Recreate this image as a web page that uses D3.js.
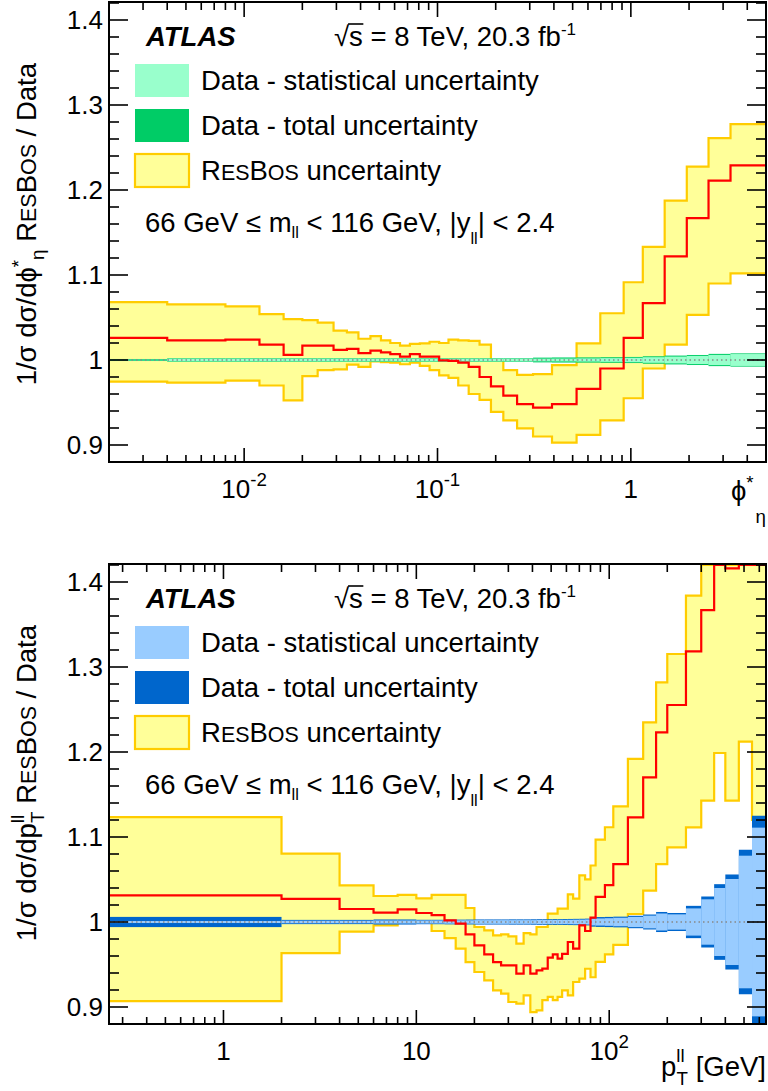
<!DOCTYPE html>
<html><head><meta charset="utf-8">
<script src="https://cdn.jsdelivr.net/npm/d3@7"></script>
<style>
body{margin:0;background:#fff}
svg{display:block}
svg text{font-family:"Liberation Sans",Arial,Helvetica,sans-serif;fill:#000}
</style>
</head><body>
<svg id="c" width="768" height="1091"></svg>
<script>
// ---------------- DATA ----------------
// phi*_eta panel
const phiEdges = [0, 0.004, 0.008, 0.012, 0.016, 0.020, 0.024, 0.029, 0.034, 0.039, 0.045, 0.051, 0.057, 0.064, 0.072, 0.081, 0.091, 0.102, 0.114, 0.128, 0.145, 0.165, 0.189, 0.219, 0.258, 0.312, 0.391, 0.524, 0.695, 0.918, 1.153, 1.496, 1.947, 2.522, 3.277, 5.0];
const phiResBos = [1.026, 1.023, 1.024, 1.018, 1.006, 1.017, 1.017, 1.012, 1.013, 1.008, 1.011, 1.009, 1.007, 1.004, 1.007, 1.004, 1.004, 0.9995, 0.999, 0.997, 0.992, 0.980, 0.969, 0.958, 0.948, 0.944, 0.948, 0.966, 0.990, 1.026, 1.067, 1.122, 1.167, 1.211, 1.229];
const phiResBosUp = [1.068, 1.0655, 1.063, 1.054, 1.048, 1.047, 1.044, 1.0345, 1.0325, 1.025, 1.028, 1.023, 1.020, 1.017, 1.019, 1.0195, 1.0215, 1.020, 1.024, 1.023, 1.0225, 1.018, 1.000, 0.988, 0.9825, 0.9835, 0.994, 1.0195, 1.055, 1.0915, 1.133, 1.1875, 1.2275, 1.261, 1.2775];
const phiResBosDown = [0.9745, 0.9733, 0.9757, 0.970, 0.9525, 0.981, 0.988, 0.989, 0.9945, 0.992, 0.9985, 0.9975, 0.997, 0.995, 0.997, 0.993, 0.988, 0.982, 0.979, 0.970, 0.960, 0.953, 0.939, 0.929, 0.9195, 0.910, 0.9027, 0.912, 0.929, 0.955, 0.990, 1.018, 1.053, 1.090, 1.102];
const phiStat = [0.0004, 0.0016, 0.0016, 0.0016, 0.0016, 0.0016, 0.0016, 0.0016, 0.0016, 0.0016, 0.0016, 0.0016, 0.0016, 0.0016, 0.0016, 0.0016, 0.0016, 0.0016, 0.0016, 0.0016, 0.0016, 0.0016, 0.0016, 0.0016, 0.0016, 0.0016, 0.0017, 0.0019, 0.0022, 0.0026, 0.0033, 0.0040, 0.0048, 0.0060, 0.0070];
const phiTotal = [0.0012, 0.0021, 0.0021, 0.0021, 0.0021, 0.0021, 0.0021, 0.0021, 0.0021, 0.0021, 0.0021, 0.0021, 0.0021, 0.0021, 0.0021, 0.0021, 0.0021, 0.0021, 0.0021, 0.0021, 0.0021, 0.0021, 0.0021, 0.0021, 0.0021, 0.0028, 0.0030, 0.0031, 0.0033, 0.0036, 0.0044, 0.0052, 0.0059, 0.0072, 0.0078];
const phiTickValues = [0.01, 0.1, 1];
const phiTickLabels = ["10^-2", "10^-1", "1"];

// pT panel
const ptEdges = [0, 2, 4, 6, 8, 10, 12, 14, 16, 18, 20, 22.5, 25, 27.5, 30, 33, 36, 39, 42, 45, 48, 51, 54, 57, 61, 65, 70, 75, 80, 85, 95, 105, 125, 150, 175, 200, 250, 300, 350, 400, 470, 550, 650];
const ptResBos = [1.0314, 1.0271, 1.0153, 1.011, 1.0149, 1.0106, 1.008, 1.002, 0.998, 0.9855, 0.9726, 0.962, 0.9529, 0.949, 0.949, 0.9393, 0.949, 0.9393, 0.9432, 0.9451, 0.9581, 0.962, 0.9569, 0.9624, 0.9765, 0.9687, 0.9961, 0.9894, 1.0052, 1.0296, 1.0434, 1.068, 1.1232, 1.1702, 1.2232, 1.2553, 1.3185, 1.367, 1.43, 1.416, 1.43, 1.43];
const ptResBosUp = [1.1235, 1.0804, 1.0431, 1.0306, 1.0318, 1.0278, 1.0318, 1.0318, 1.0318, 1.0165, 0.9941, 0.9902, 0.9843, 0.9855, 0.9832, 0.9746, 0.987, 0.9855, 0.9941, 0.9941, 1.0099, 1.0099, 1.0158, 1.0158, 1.0326, 1.0275, 1.0549, 1.0502, 1.0665, 1.097, 1.1115, 1.136, 1.1918, 1.2349, 1.282, 1.3153, 1.384, 1.50, 1.55, 1.60, 1.65, 1.70];
const ptResBosDown = [0.907, 0.9635, 0.9886, 0.9961, 0.999, 0.999, 0.9894, 0.981, 0.9687, 0.9529, 0.9412, 0.9314, 0.9196, 0.9157, 0.9059, 0.904, 0.9137, 0.894, 0.896, 0.908, 0.912, 0.908, 0.912, 0.9196, 0.9137, 0.9294, 0.9334, 0.945, 0.935, 0.953, 0.962, 0.973, 1.0094, 1.0369, 1.0682, 1.0878, 1.1114, 1.1427, 1.1988, 1.1427, 1.2122, 1.12];
const ptStat = [0.0012, 0.0015, 0.0015, 0.0018, 0.0018, 0.0018, 0.0018, 0.002, 0.002, 0.002, 0.0022, 0.0022, 0.0022, 0.0022, 0.0022, 0.0022, 0.0022, 0.0022, 0.0024, 0.0024, 0.0024, 0.0024, 0.0025, 0.0025, 0.0026, 0.0027, 0.0028, 0.003, 0.004, 0.0042, 0.0045, 0.005, 0.006, 0.0075, 0.010, 0.009, 0.016, 0.0267, 0.040, 0.0506, 0.078, 0.111];
const ptTotal = [0.006, 0.0025, 0.0025, 0.003, 0.003, 0.0026, 0.0026, 0.0028, 0.0028, 0.0029, 0.003, 0.003, 0.003, 0.003, 0.0031, 0.0031, 0.0031, 0.0032, 0.0033, 0.0033, 0.0033, 0.0034, 0.0034, 0.0035, 0.0036, 0.0037, 0.0038, 0.004, 0.0055, 0.0058, 0.006, 0.0063, 0.0073, 0.0088, 0.0118, 0.0106, 0.019, 0.030, 0.0445, 0.0559, 0.085, 0.125];
const ptTickValues = [1, 10, 100];
const ptTickLabels = ["1", "10", "10^2"];

// y axis (shared)
const yTickValues = [0.9, 1.0, 1.1, 1.2, 1.3, 1.4];
const yTickLabels = ["0.9", "1", "1.1", "1.2", "1.3", "1.4"];

// ---------------- LAYOUT / STYLE ----------------
const X0 = 109, X1 = 766;
const yDomain = [0.88, 1.42];
const TXT = 27.5, TICK = 26;
const PHI = "\u03D5";
const svg = d3.select("#c");

const panels = [
  {id: "phi", top: 3, bottom: 462, off: 0, xDomain: [0.002, 5],
   edges: phiEdges, central: phiResBos, up: phiResBosUp, down: phiResBosDown, stat: phiStat, total: phiTotal,
   statColor: "#99ffcc", totColor: "#00cc66", xTickValues: phiTickValues, xTickLabels: phiTickLabels, kind: "phi"},
  {id: "pt", top: 565, bottom: 1024, off: 562, xDomain: [0.255, 650],
   edges: ptEdges, central: ptResBos, up: ptResBosUp, down: ptResBosDown, stat: ptStat, total: ptTotal,
   statColor: "#99ccff", totColor: "#0066cc", xTickValues: ptTickValues, xTickLabels: ptTickLabels, kind: "pt"}
];

// rich text helper: parts = [{t, size, shift, dx}]
function rich(textSel, parts, base) {
  let cur = 0;
  parts.forEach(p => {
    const target = p.shift || 0;
    const ts = textSel.append("tspan").text(p.t).attr("font-size", p.size || base);
    if (target - cur !== 0) ts.attr("dy", target - cur);
    if (p.dx) ts.attr("dx", p.dx);
    cur = target;
  });
  return textSel;
}
function resbosParts(base) {
  const sc = base * 0.78;
  return [{t: "R"}, {t: "ES", size: sc}, {t: "B"}, {t: "OS", size: sc}];
}

function drawPanel(p) {
  const x = d3.scaleLog().domain(p.xDomain).range([X0, X1]);
  const y = d3.scaleLinear().domain(yDomain).range([p.bottom, p.top]).clamp(true);
  const xs = v => x(Math.min(Math.max(v, p.xDomain[0]), p.xDomain[1]));

  const clipId = "clip-" + p.id;
  svg.append("clipPath").attr("id", clipId).append("rect")
    .attr("x", X0).attr("y", p.top - 1).attr("width", X1 - X0).attr("height", p.bottom - p.top + 1);
  const pg = svg.append("g").attr("clip-path", `url(#${clipId})`);

  const bins = p.central.map((c, i) => ({x0: p.edges[i], x1: p.edges[i + 1], c, up: p.up[i], dn: p.down[i], st: p.stat[i], tot: p.total[i]}));
  const step = key => bins.flatMap(b => [[xs(b.x0), b[key]], [xs(b.x1), b[key]]]);
  const line = d3.line().x(d => d[0]).y(d => y(d[1]));

  // ResBos uncertainty band
  const areaPts = bins.flatMap(b => [{x: xs(b.x0), u: b.up, d: b.dn}, {x: xs(b.x1), u: b.up, d: b.dn}]);
  pg.append("path").attr("d", d3.area().x(d => d.x).y0(d => y(d.d)).y1(d => y(d.u))(areaPts))
    .attr("fill", "#ffff99");
  pg.append("path").attr("d", line(step("up"))).attr("fill", "none").attr("stroke", "#ffcc00").attr("stroke-width", 2.2);
  pg.append("path").attr("d", line(step("dn"))).attr("fill", "none").attr("stroke", "#ffcc00").attr("stroke-width", 2.2);

  // Data bands: total then stat
  pg.selectAll("rect.tot").data(bins).join("rect").attr("class", "tot")
    .attr("x", b => xs(b.x0)).attr("width", b => xs(b.x1) - xs(b.x0))
    .attr("y", b => y(1 + b.tot)).attr("height", b => y(1 - b.tot) - y(1 + b.tot))
    .attr("fill", p.totColor);
  pg.selectAll("rect.stat").data(bins).join("rect").attr("class", "stat")
    .attr("x", b => xs(b.x0)).attr("width", b => xs(b.x1) - xs(b.x0))
    .attr("y", b => y(1 + b.st)).attr("height", b => y(1 - b.st) - y(1 + b.st))
    .attr("fill", p.statColor);

  // dotted reference line
  pg.append("line").attr("x1", X0).attr("x2", X1).attr("y1", y(1)).attr("y2", y(1))
    .attr("stroke", "#888").attr("stroke-width", 1.3).attr("stroke-dasharray", "1.5,3");

  // ResBos central
  pg.append("path").attr("d", line(step("c"))).attr("fill", "none").attr("stroke", "#ff0000").attr("stroke-width", 2.2);

  // ticks
  const tg = svg.append("g").attr("stroke", "#000").attr("stroke-width", 1.6);
  const yMinor = d3.range(0, 28).map(i => +(yDomain[0] + 0.02 * i).toFixed(2)).filter(v => v <= yDomain[1] + 1e-9);
  yMinor.forEach(v => {
    const major = yTickValues.some(m => Math.abs(m - v) < 1e-6);
    const L = major ? 19 : 10;
    const yy = y(v);
    tg.append("line").attr("x1", X0).attr("x2", X0 + L).attr("y1", yy).attr("y2", yy);
    tg.append("line").attr("x1", X1).attr("x2", X1 - L).attr("y1", yy).attr("y2", yy);
  });
  const lo = Math.floor(Math.log10(p.xDomain[0])), hi = Math.ceil(Math.log10(p.xDomain[1]));
  for (let n = lo; n <= hi; n++) {
    for (let k = 1; k <= 9; k++) {
      const v = k * Math.pow(10, n);
      if (v < p.xDomain[0] || v > p.xDomain[1]) continue;
      const L = k === 1 ? 14 : 7;
      const xx = x(v);
      tg.append("line").attr("x1", xx).attr("x2", xx).attr("y1", p.bottom).attr("y2", p.bottom - L);
      tg.append("line").attr("x1", xx).attr("x2", xx).attr("y1", p.top).attr("y2", p.top + L);
    }
  }

  // frame
  svg.append("rect").attr("x", X0).attr("y", p.top - 1).attr("width", X1 - X0).attr("height", p.bottom - p.top + 1)
    .attr("fill", "none").attr("stroke", "#000").attr("stroke-width", 2);

  // y tick labels
  yTickValues.forEach((v, i) => {
    svg.append("text").attr("x", 103).attr("y", y(v) + 9.3).attr("text-anchor", "end")
      .attr("font-size", TICK).text(yTickLabels[i]);
  });
  // x tick labels
  p.xTickValues.forEach((v, i) => {
    const lab = p.xTickLabels[i];
    const t = svg.append("text").attr("x", x(v)).attr("y", p.bottom + 36).attr("text-anchor", "middle").attr("font-size", TICK);
    if (lab.includes("^")) {
      const [b, e] = lab.split("^");
      rich(t, [{t: b}, {t: e, size: TICK * 0.72, shift: -12}], TICK);
    } else t.text(lab);
  });

  // axis titles
  const yt = svg.append("text").attr("transform", `translate(36,${p.off + 63}) rotate(-90)`)
    .attr("text-anchor", "end").attr("font-size", TXT);
  const sub = TXT * 0.68;
  if (p.kind === "phi") {
    rich(yt, [{t: "1/σ dσ/d" + PHI}, {t: "*", size: sub, shift: -11}, {t: "η", size: sub, shift: 8}, {t: "  "}]
      .concat(resbosParts(TXT)).concat([{t: " / Data"}]), TXT);
    const xt = svg.append("text").attr("x", 766).attr("y", p.bottom + 38).attr("text-anchor", "end").attr("font-size", TXT);
    rich(xt, [{t: PHI}, {t: "*", size: sub, shift: -11}, {t: "η", size: sub, shift: 23, dx: 2}], TXT);
  } else {
    rich(yt, [{t: "1/σ dσ/dp"}, {t: "ll", size: sub, shift: -12}, {t: "T", size: sub, shift: 8, dx: -8}, {t: "  "}]
      .concat(resbosParts(TXT)).concat([{t: " / Data"}]), TXT);
    const xt = svg.append("text").attr("x", 766).attr("y", p.bottom + 52).attr("text-anchor", "end").attr("font-size", TXT);
    rich(xt, [{t: "p"}, {t: "ll", size: sub, shift: -14}, {t: "T", size: sub, shift: 9, dx: -8}, {t: " [GeV]"}], TXT);
  }

  // ATLAS label
  svg.append("text").attr("x", 146).attr("y", p.off + 46).attr("font-size", TXT)
    .attr("font-weight", "bold").attr("font-style", "italic").text("ATLAS");
  // sqrt(s) label
  const st = svg.append("text").attr("x", 334).attr("y", p.off + 46).attr("font-size", TXT);
  rich(st, [{t: "√s = 8 TeV, 20.3 fb"}, {t: "-1", size: TXT * 0.62, shift: -11}], TXT);
  const node = st.node();
  const e0 = node.getExtentOfChar(0), e1 = node.getExtentOfChar(1);
  svg.append("line").attr("x1", e0.x + e0.width - 1).attr("x2", e1.x + e1.width + 0.5)
    .attr("y1", p.off + 24).attr("y2", p.off + 24).attr("stroke", "#000").attr("stroke-width", 1.6);

  // legend
  const legItems = [
    {label: [{t: "Data - statistical uncertainty"}], fill: p.statColor, stroke: null},
    {label: [{t: "Data - total uncertainty"}], fill: p.totColor, stroke: null},
    {label: resbosParts(TXT).concat([{t: " uncertainty"}]), fill: "#ffff99", stroke: "#ffcc00"}
  ];
  legItems.forEach((it, i) => {
    const by = p.off + 64 + 45 * i;
    svg.append("rect").attr("x", 135).attr("y", by).attr("width", 54).attr("height", 33)
      .attr("fill", it.fill).attr("stroke", it.stroke || "none").attr("stroke-width", it.stroke ? 2.2 : 0);
    const t = svg.append("text").attr("x", 201).attr("y", by + 26).attr("font-size", TXT);
    rich(t, it.label, TXT);
  });

  // selection text
  const ct = svg.append("text").attr("x", 145).attr("y", p.off + 232).attr("font-size", TXT);
  rich(ct, [{t: "66 GeV ≤ m"}, {t: "ll", size: TXT * 0.6, shift: 6}, {t: " < 116 GeV, |y"}, {t: "ll", size: TXT * 0.6, shift: 12}, {t: "| < 2.4"}], TXT);
}

panels.forEach(drawPanel);
</script>
</body></html>
